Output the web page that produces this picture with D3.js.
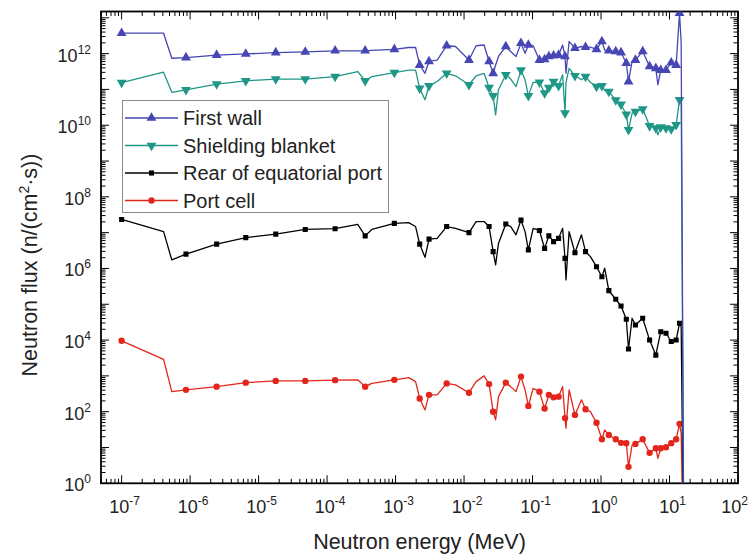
<!DOCTYPE html>
<html><head><meta charset="utf-8">
<script src="https://cdn.jsdelivr.net/npm/d3@7"></script>
<style>body{margin:0;background:#fff}svg{display:block;font-family:"Liberation Sans",Arial,sans-serif}</style>
</head><body><svg id="c" width="750" height="559"></svg>
<script>
// Neutron energy grid (MeV)
const energy = [1e-7,4.1e-7,5.4e-7,8.7e-7,2.44e-6,6.5e-6,1.78e-5,4.8e-5,1.31e-4,2.8e-4,
3.6e-4,4.5e-4,9.6e-4,1.55e-3,1.96e-3,2.25e-3,2.69e-3,3.08e-3,4.05e-3,5.57e-3,
7.5e-3,1.18e-2,1.5e-2,1.96e-2,2.32e-2,2.66e-2,2.89e-2,3.18e-2,4.07e-2,4.8e-2,
5.74e-2,6.78e-2,7.78e-2,8.69e-2,0.102,0.126,0.150,0.173,0.203,0.240,
0.275,0.298,0.308,0.342,0.416,0.518,0.594,0.700,0.859,1.03,
1.13,1.30,1.64,1.96,2.34,2.52,2.84,3.18,4.06,5.12,
6.31,6.75,7.45,8.89,10.6,12.5,14.0,14.8,16.3];

const firstWall = [3.72e12,3.72e12,7.41e11,7.76e11,9.12e11,9.77e11,1.07e12,1.12e12,1.20e12,1.20e12,
1.20e12,1.23e12,1.32e12,1.48e12,1.48e12,4.79e11,2.82e11,6.03e11,6.61e11,1.66e12,
1.58e12,6.61e11,1.66e12,1.74e12,6.03e11,2.82e11,4.79e11,8.32e11,1.58e12,1.15e12,
8.32e11,1.95e12,1.02e12,1.74e12,1.66e12,6.61e11,6.92e11,8.32e11,8.71e11,9.12e11,
1.74e12,8.32e11,2.82e11,2.19e12,1.41e12,1.58e12,1.51e12,1.51e12,1.32e12,2.19e12,
1.26e12,1.20e12,1.15e12,1.07e12,5.37e11,1.66e11,6.03e11,6.61e11,1.15e12,4.37e11,
3.89e11,1.35e11,3.47e11,3.47e11,5.62e11,4.79e11,1.35e13,2.0e12,1e-3];

const shieldingBlanket = [1.55e11,3.02e11,8.32e10,9.77e10,1.41e11,1.74e11,1.95e11,1.95e11,2.29e11,3.16e11,
1.74e11,2.29e11,2.95e11,3.47e11,3.47e11,1.07e11,5.13e10,1.26e11,1.66e11,2.82e11,
2.40e11,1.35e11,2.40e11,2.82e11,1.12e11,6.61e10,1.95e10,9.77e10,2.57e11,1.95e11,
1.20e11,3.47e11,1.86e11,6.61e10,1.58e11,1.58e11,7.94e10,1.12e11,1.66e11,1.26e11,
2.57e11,2.19e10,1.58e11,3.89e11,2.40e11,1.86e11,2.29e11,1.58e11,1.20e11,1.26e11,
9.33e10,8.71e10,5.01e10,3.80e10,2.00e10,7.41e9,2.14e10,2.40e10,2.82e10,9.55e9,
8.32e9,5.37e9,8.91e9,8.32e9,7.76e9,1.02e10,5.13e10,5.62e10,1e-3];

const rearPort = [2.34e7,1.07e7,1.74e6,2.51e6,4.79e6,7.24e6,9.12e6,1.23e7,1.29e7,1.70e7,
8.13e6,1.23e7,1.82e7,1.91e7,1.48e7,4.79e6,2.04e6,6.61e6,6.92e6,1.48e7,
1.32e7,1.00e7,2.04e7,2.04e7,1.48e7,2.95e6,1.26e6,5.01e6,1.74e7,1.48e7,
8.71e6,2.24e7,1.07e7,3.31e6,1.32e7,1.15e7,3.63e6,8.13e6,5.62e6,6.92e6,
1.32e7,1.91e6,4.79e5,1.07e7,2.75e6,8.71e6,2.95e6,2.14e6,1.12e6,5.89e5,
1.02e6,2.40e5,1.38e5,8.91e4,3.80e4,5.62e3,4.07e4,2.63e4,4.07e4,1.00e4,
3.80e3,7.08e3,1.70e4,1.55e4,9.12e3,1.00e4,2.95e4,2.34e4,1e-3];

const portCell = [9.55e3,2.88e3,363,407,501,646,724,724,759,776,
501,617,776,891,692,234,112,295,295,617,
562,339,692,1000,589,100,58.9,263,646,501,
363,955,407,145,447,363,123,295,251,263,
501,66.1,34.7,407,81.3,214,117,100,49.0,17.0,
30.9,22.4,17.0,13.5,13.2,2.88,11.7,12.6,17.0,7.08,
9.55,5.01,9.55,10.2,13.2,17.0,45.7,25.1,1e-3];

// indices of points that carry a marker
const markerIdx = [0,3,4,5,6,7,8,10,12,15,17,19,21,24,25,28,31,33,35,36,37,38,39,41,44,46,48,49,51,52,53,54,55,57,58,59,60,62,63,64,65,66];

const seriesNames = ["First wall","Shielding blanket","Rear of equatorial port","Port cell"];
const seriesValues = [firstWall, shieldingBlanket, rearPort, portCell];
const seriesColors = ["#4646b4","#1f9787","#000000","#e3261c"];
const seriesSymbols = ["triUp","triDown","square","circle"];

const xTickPowers = [-7,-6,-5,-4,-3,-2,-1,0,1,2];
const yTickPowers = [0,2,4,6,8,10,12];

const svg = d3.select("#c");
const L=101, R=738, T=11.5, B=483.3;
const x = d3.scaleLog().domain([5e-8,100]).range([L,R]);
const y = d3.scaleLog().domain([1,1.5e13]).range([B,T]);

svg.append("defs").append("clipPath").attr("id","clip")
  .append("rect").attr("x",L).attr("y",T).attr("width",R-L).attr("height",B-T);

function allTicks(sc){
  const [a,b]=sc.domain(); const out=[];
  for(let p=Math.floor(Math.log10(a)); p<=Math.ceil(Math.log10(b)); p++){
    for(let k=1;k<=9;k++){ const v=k*Math.pow(10,p); if(v>=a*0.999 && v<=b*1.001) out.push({v,major:k===1}); }
  }
  return out;
}
const tg = svg.append("g").attr("stroke","#000").attr("stroke-width",1);
allTicks(x).forEach(t=>{
  const px=x(t.v), len=t.major?8:4.5;
  tg.append("line").attr("x1",px).attr("x2",px).attr("y1",B).attr("y2",B-len);
  tg.append("line").attr("x1",px).attr("x2",px).attr("y1",T).attr("y2",T+len);
});
allTicks(y).forEach(t=>{
  const py=y(t.v), len=t.major?8:4.5;
  tg.append("line").attr("x1",L).attr("x2",L+len).attr("y1",py).attr("y2",py);
  tg.append("line").attr("x1",R).attr("x2",R-len).attr("y1",py).attr("y2",py);
});
svg.append("rect").attr("x",L).attr("y",T).attr("width",R-L).attr("height",B-T)
  .attr("fill","none").attr("stroke","#000").attr("stroke-width",1.8);

// tick labels
xTickPowers.forEach((p,i)=>{
  const last = i===xTickPowers.length-1;
  const t=svg.append("text").attr("x", last ? 748 : x(Math.pow(10,p))+3).attr("y",513)
    .attr("text-anchor", last ? "end" : "middle").attr("font-size",18).attr("fill","#222");
  t.append("tspan").text("10");
  t.append("tspan").attr("dy",-8).attr("font-size",12).text(String(p));
});
yTickPowers.forEach(p=>{
  const t=svg.append("text").attr("x",91).attr("y",y(Math.pow(10,p))+8)
    .attr("text-anchor","end").attr("font-size",18).attr("fill","#222");
  t.append("tspan").text("10");
  t.append("tspan").attr("dy",-8).attr("font-size",12).text(String(p));
});

// axis titles
svg.append("text").attr("x",(L+R)/2).attr("y",549).attr("text-anchor","middle")
  .attr("font-size",21.5).attr("fill","#222").text("Neutron energy (MeV)");
const yt = svg.append("text").attr("transform","translate(37,265) rotate(-90)")
  .attr("text-anchor","middle").attr("font-size",21.5).attr("fill","#222");
yt.append("tspan").text("Neutron flux (n/(cm");
yt.append("tspan").attr("dy",-8).attr("font-size",14).text("2");
yt.append("tspan").attr("dy",8).text("\u00b7s))");

function symPath(kind){
  if(kind==="triUp"||kind==="triDown") return d3.symbol(d3.symbolTriangle,42)();
  if(kind==="square") return d3.symbol(d3.symbolSquare,26)();
  return d3.symbol(d3.symbolCircle,32)();
}

const plot = svg.append("g").attr("clip-path","url(#clip)");
[3,2,1,0].forEach(si=>{
  const vals=seriesValues[si];
  const pts=energy.map((e,i)=>[e,vals[i]]);
  const line=d3.line().x(d=>x(d[0])).y(d=>y(Math.max(d[1],1e-6)));
  plot.append("path").attr("d",line(pts)).attr("fill","none")
    .attr("stroke",seriesColors[si]).attr("stroke-width",1.3).attr("stroke-linejoin","round");
  const sp=symPath(seriesSymbols[si]);
  plot.selectAll(null).data(markerIdx).enter().append("path")
    .attr("d",sp).attr("fill",seriesColors[si])
    .attr("transform",i=>`translate(${x(energy[i])},${y(vals[i])})`+(seriesSymbols[si]==="triDown"?" rotate(180)":""));
});

// legend
const lg=svg.append("g");
lg.append("rect").attr("x",122.5).attr("y",100.5).attr("width",266).attr("height",112)
  .attr("fill","#fff").attr("stroke","#8a8a8a").attr("stroke-width",1);
seriesNames.forEach((n,i)=>{
  const yy=118+i*27.5;
  lg.append("line").attr("x1",125).attr("x2",178).attr("y1",yy).attr("y2",yy)
    .attr("stroke",seriesColors[i]).attr("stroke-width",1.3);
  lg.append("path").attr("d",symPath(seriesSymbols[i])).attr("fill",seriesColors[i])
    .attr("transform",`translate(151.5,${yy})`+(seriesSymbols[i]==="triDown"?" rotate(180)":""));
  lg.append("text").attr("x",183).attr("y",yy+7).attr("font-size",20).attr("fill","#222").text(n);
});
</script></body></html>
